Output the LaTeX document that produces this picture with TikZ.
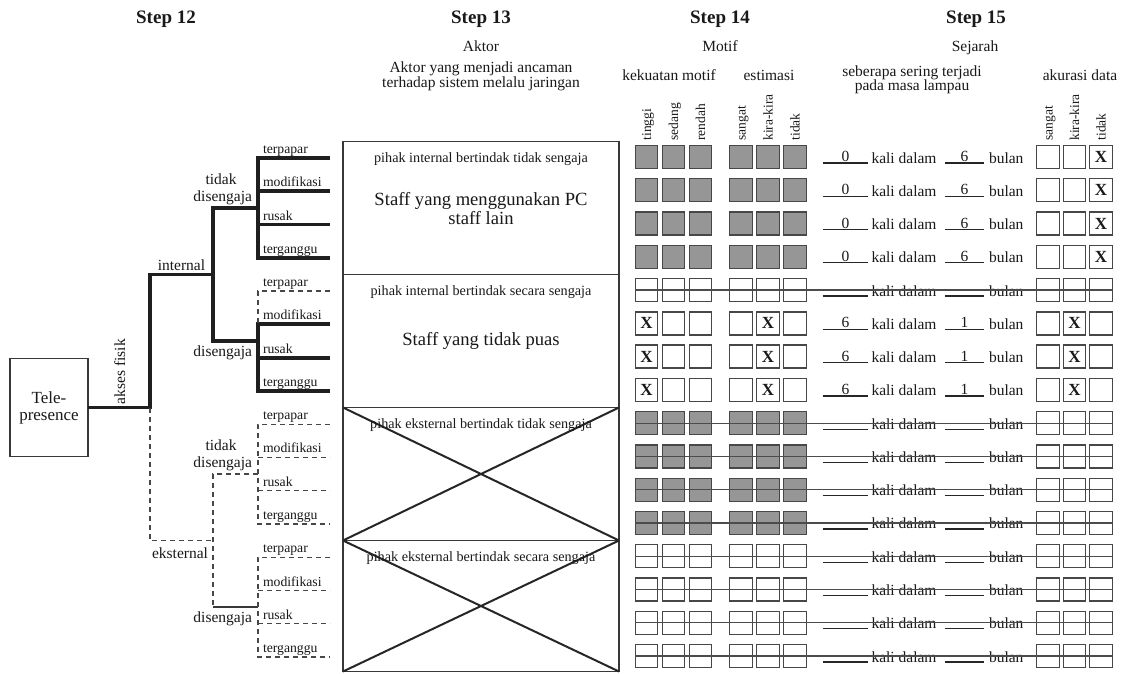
\documentclass[tikz,border=0pt]{standalone}
\usepackage{fontspec}
\setmainfont{Liberation Serif}
\begin{document}
\begin{tikzpicture}[x=1pt,y=-1pt,
  every node/.style={inner sep=0pt, outer sep=0pt, text=black!90},
  hdr/.style={font=\fontsize{19}{21}\selectfont\bfseries, anchor=base},
  lbl/.style={font=\fontsize{15.5}{17}\selectfont, anchor=base},
  vlab/.style={font=\fontsize{13.5}{15}\selectfont, rotate=90, anchor=base west},
  leaflab/.style={font=\fontsize{13.7}{15}\selectfont, anchor=base west},
  actor/.style={font=\fontsize{14.2}{16}\selectfont, anchor=base},
  staff/.style={font=\fontsize{18.6}{20}\selectfont, anchor=base},
  heavy/.style={line width=3.8pt, draw=black!88, line join=miter},
  dashedline/.style={line width=1.3pt, draw=black!72, dash pattern=on 5pt off 4pt},
  thinline/.style={line width=1.3pt, draw=black!78},
  sectionbox/.style={draw=black!78, line width=1.3pt, minimum width=276pt},
  crossline/.style={line width=2pt, draw=black!85},
  cellbox/.style={draw=black!72, line width=1.3pt, minimum width=22.5pt, minimum height=23pt},
  gcell/.style={cellbox, fill=black!41},
  wcell/.style={cellbox, fill=white},
  xmark/.style={font=\fontsize{17}{17}\selectfont\bfseries},
  blankline/.style={line width=1.3pt, draw=black!85},
  strikeline/.style={line width=1.2pt, draw=black!70}
]
\useasboundingbox (0,0) rectangle (1122,673);
\fill[white] (0,0) rectangle (1122,673);

% ---------- column headings ----------
\node[hdr] (s12) at (166,23) {Step 12};
\node[hdr] (s13) at (481,23) {Step 13};
\node[hdr] (s14) at (720,23) {Step 14};
\node[hdr] (s15) at (976,23) {Step 15};

\node[lbl] (aktor) at (481,51) {Aktor};
\node[lbl] (aktor1) at (481,72) {Aktor yang menjadi ancaman};
\node[lbl] (aktor2) at (481,87) {terhadap sistem melalu jaringan};

\node[lbl] (motif) at (720,51) {Motif};
\node[lbl] (kekuatan) at (669,80) {kekuatan motif};
\node[lbl] (estimasi) at (769,80) {estimasi};

\node[lbl] (sejarah) at (975,51) {Sejarah};
\node[lbl] (sering1) at (912,76) {seberapa sering terjadi};
\node[lbl] (sering2) at (912,90) {pada masa lampau};
\node[lbl] (akurasi) at (1080,80) {akurasi data};

\foreach \cx/\t [count=\k] in {646.5/tinggi,673.5/sedang,700.5/rendah,741/sangat,768/kira-kira,795/tidak}
  \node[vlab] (mh\k) at (\cx+4.5,140.5) {\t};
\foreach \cx/\t [count=\k] in {1048/sangat,1074.5/kira-kira,1101/tidak}
  \node[vlab] (ah\k) at (\cx+4.5,140.5) {\t};

% ---------- step 12: threat tree ----------
\node[draw=black!78, line width=1.3pt, minimum width=78pt, minimum height=98pt,
      align=center, font=\fontsize{17}{17}\selectfont] (tele) at (49,407.5) {Tele-\\presence};

\coordinate (root) at (150,407.5);
\coordinate (int)  at (150,274.45);
\coordinate (intj) at (213,274.45);
\coordinate (ext)  at (150,540.6);
\coordinate (extj) at (213,540.6);
\coordinate (iT)   at (213,207.9);
\coordinate (iTj)  at (258,207.9);
\coordinate (iD)   at (213,341);
\coordinate (iDj)  at (258,341);
\coordinate (eT)   at (213,474.07);
\coordinate (eTj)  at (258,474.07);
\coordinate (eD)   at (213,607.1);
\coordinate (eDj)  at (258,607.1);
\foreach \i in {1,...,16}{
  \coordinate (l\i) at (258,{158+33.27*(\i-1)});
  \coordinate (r\i) at (330,{158+33.27*(\i-1)});
}

% solid (thick) branches
\draw[heavy] (tele.east) -- (root) -- (int) -- (intj);
\draw[heavy] (iTj) -- (iT) -- (iD) -- (iDj);
\draw[heavy] (r1) -- (l1) -- (l4) -- (r4);
\draw[heavy] (l2) -- (r2);
\draw[heavy] (l3) -- (r3);
\draw[heavy] (r6) -- (l6) -- (l8) -- (r8);
\draw[heavy] (l7) -- (r7);

% dashed branches
\draw[dashedline] (r5) -- (l5) -- (l6);
\draw[dashedline] (root) -- (ext) -- (extj);
\draw[dashedline] (eTj) -- (eT) -- (eD);
\draw[thinline] (eD) -- (eDj);
\draw[dashedline] (r9) -- (l9) -- (l12) -- (r12);
\draw[dashedline] (l10) -- (r10);
\draw[dashedline] (l11) -- (r11);
\draw[dashedline] (r13) -- (l13) -- (l16) -- (r16);
\draw[dashedline] (l14) -- (r14);
\draw[dashedline] (l15) -- (r15);

% branch labels
\node[lbl, rotate=90, anchor=base west] (akses) at (125,404) {akses fisik};
\node[lbl] (internal) at (181.5,270) {internal};
\node[lbl, anchor=base east] (eksternal) at (208,558) {eksternal};
\node[lbl] (iTa) at (221,184.4) {tidak};
\node[lbl, anchor=base east] (iTb) at (252,201.4) {disengaja};
\node[lbl, anchor=base east] (iDa) at (252,356) {disengaja};
\node[lbl] (eTa) at (221,450.5) {tidak};
\node[lbl, anchor=base east] (eTb) at (252,467.5) {disengaja};
\node[lbl, anchor=base east] (eDa) at (252,622) {disengaja};

\foreach \i/\t in {1/terpapar,2/modifikasi,3/rusak,4/terganggu,
                   5/terpapar,6/modifikasi,7/rusak,8/terganggu,
                   9/terpapar,10/modifikasi,11/rusak,12/terganggu,
                   13/terpapar,14/modifikasi,15/rusak,16/terganggu}
  \node[leaflab] (leaf\i) at (263,{158+33.27*(\i-1)-4.5}) {\t};

% ---------- step 13: actor boxes ----------
\node[sectionbox, minimum height=133pt] (sec1) at (481,208) {};
\node[sectionbox, minimum height=133pt] (sec2) at (481,341) {};
\node[sectionbox, minimum height=133pt] (sec3) at (481,474) {};
\node[sectionbox, minimum height=131pt] (sec4) at (481,606) {};
\draw[crossline] (sec3.north west) -- (sec3.south east);
\draw[crossline] (sec3.south west) -- (sec3.north east);
\draw[crossline] (sec4.north west) -- (sec4.south east);
\draw[crossline] (sec4.south west) -- (sec4.north east);

\node[actor] (p1) at (481,162) {pihak internal bertindak tidak sengaja};
\node[staff] (st1a) at (481,205) {Staff yang menggunakan PC};
\node[staff] (st1b) at (481,224.3) {staff lain};
\node[actor] (p2) at (481,295) {pihak internal bertindak secara sengaja};
\node[staff] (st2) at (481,345) {Staff yang tidak puas};
\node[actor] (p3) at (481,428) {pihak eksternal bertindak tidak sengaja};
\node[actor] (p4) at (481,561) {pihak eksternal bertindak secara sengaja};

% ---------- steps 14 and 15: rating rows ----------
\foreach \i/\kind in {1/gcell,2/gcell,3/gcell,4/gcell,5/wcell,6/wcell,7/wcell,8/wcell,
                      9/gcell,10/gcell,11/gcell,12/gcell,13/wcell,14/wcell,15/wcell,16/wcell}{
  \pgfmathsetmacro\ry{157+33.27*(\i-1)}
  \foreach \j/\cx in {1/646.5,2/673.5,3/700.5,4/741,5/768,6/795}
    \node[\kind] (m\i-\j) at (\cx,\ry) {};
  \foreach \j/\cx in {1/1048,2/1074.5,3/1101}
    \node[wcell] (a\i-\j) at (\cx,\ry) {};
  \draw[blankline] (822.7,\ry+6) -- (868.3,\ry+6);
  \draw[blankline] (945,\ry+6) -- (984.3,\ry+6);
  \node[lbl, anchor=base west] (kd\i) at (871.5,\ry+6) {kali dalam};
  \node[lbl, anchor=base west] (bl\i) at (989,\ry+6) {bulan};
}

% filled-in answers
\foreach \i in {1,...,4}{
  \pgfmathsetmacro\ry{157+33.27*(\i-1)}
  \node[lbl] (nf\i) at (845.5,\ry+4.5) {0};
  \node[lbl] (nb\i) at (964.5,\ry+4.5) {6};
  \node[xmark] (xa\i) at (a\i-3) {X};
}
\foreach \i in {6,7,8}{
  \pgfmathsetmacro\ry{157+33.27*(\i-1)}
  \node[lbl] (nf\i) at (845.5,\ry+4.5) {6};
  \node[lbl] (nb\i) at (964.5,\ry+4.5) {1};
  \node[xmark] (xm\i) at (m\i-1) {X};
  \node[xmark] (xe\i) at (m\i-5) {X};
  \node[xmark] (xa\i) at (a\i-2) {X};
}

% rows struck out as not applicable
\foreach \i in {5,9,10,11,12,13,14,15,16}
  \draw[strikeline] (m\i-1.west) -- (a\i-3.east);
\end{tikzpicture}
\end{document}
